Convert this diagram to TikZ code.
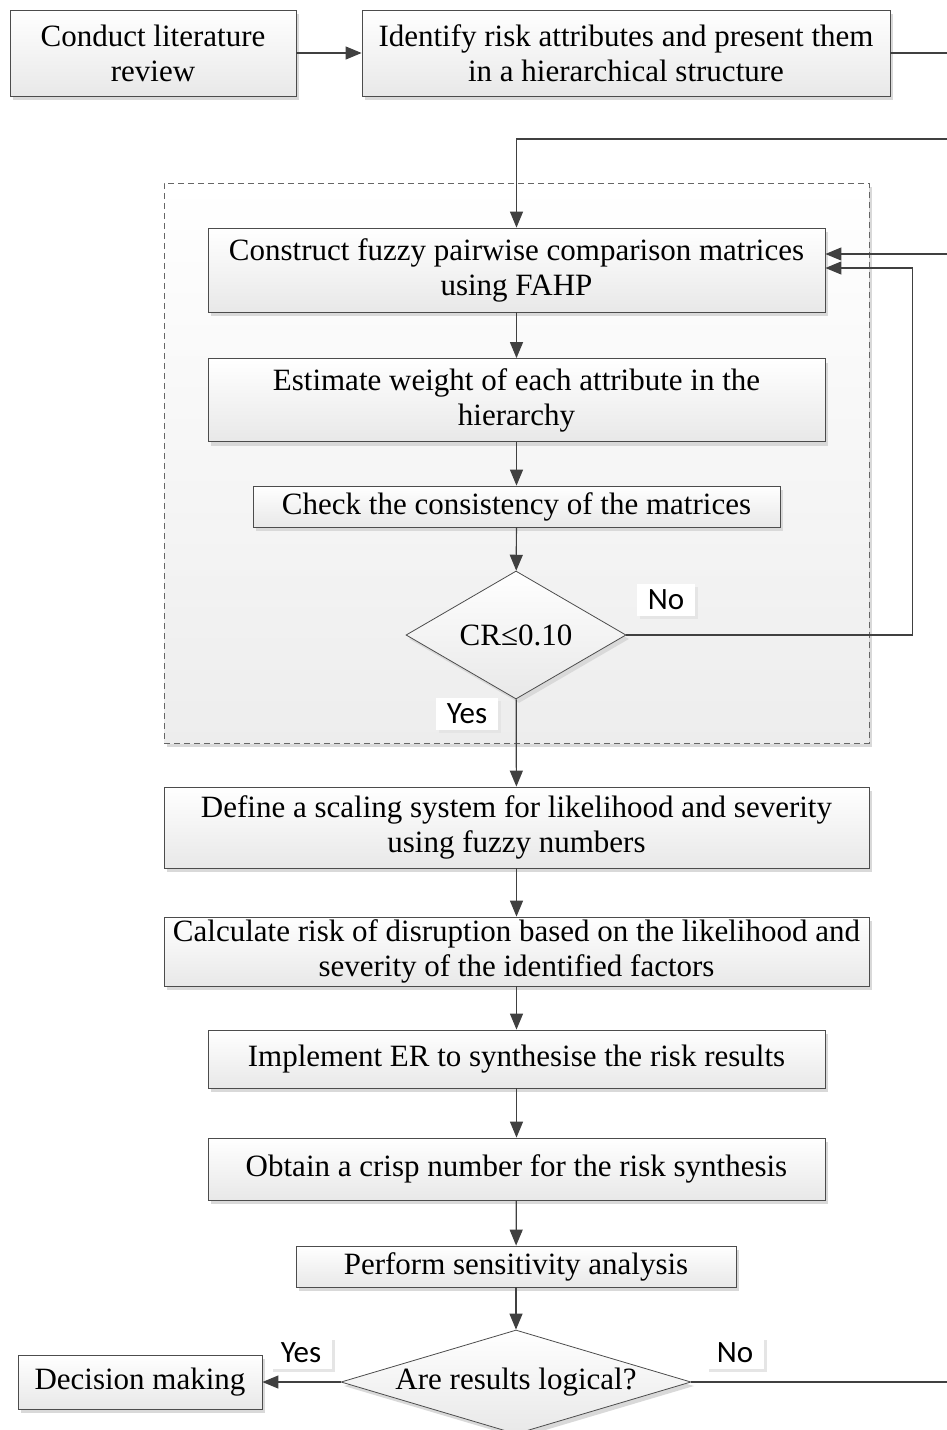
\documentclass[tikz,border=0pt]{standalone}
\usepackage{fontspec}
\setmainfont{Liberation Serif}
\newfontfamily\labelfont{Carlito}
\usetikzlibrary{shapes.geometric,arrows.meta,shadows}

\begin{document}
\begin{tikzpicture}[x=1pt,y=-1pt,
    every node/.style={font=\fontsize{31}{35}\selectfont},
    boxshadow/.style={drop shadow={shadow xshift=3pt,shadow yshift=-4pt,fill=black!15,opacity=1}},
    stepbox/.style={draw=black!70,line width=0.8pt,top color=white,bottom color=black!9,
        align=center,inner sep=0pt,boxshadow},
    testbox/.style={diamond,draw=black!70,line width=0.8pt,top color=white,bottom color=black!9,
        inner sep=0pt,boxshadow},
    areabox/.style={draw=black!60,dash pattern=on 6pt off 4pt,line width=0.7pt,top color=white,
        bottom color=black!7,inner sep=0pt,boxshadow},
    tag/.style={fill=white,inner xsep=11pt,inner ysep=6pt,font=\labelfont\fontsize{31}{33}\selectfont,
        drop shadow={shadow xshift=3pt,shadow yshift=-3pt,fill=black!10,opacity=1}},
    link/.style={draw=black!75,line width=1.2pt},
    arr/.style={link,-{Triangle[length=16pt,width=13pt]}}]
    \useasboundingbox (0,0) rectangle (947,1430);
    % grouped FAHP steps
    \node[areabox,minimum width=705,minimum height=560] (fahp) at (516.5,463) {};
    % steps
    \node[stepbox,minimum width=286,minimum height=86] (lit) at (153,53) {Conduct literature\\review};
    \node[stepbox,minimum width=528,minimum height=86] (ident) at (626,53) {Identify risk attributes and present them\\in a hierarchical structure};
    \node[stepbox,minimum width=617,minimum height=84] (construct) at (516.5,270) {Construct fuzzy pairwise comparison matrices\\using FAHP};
    \node[stepbox,minimum width=617,minimum height=83] (estimate) at (516.5,400) {Estimate weight of each attribute in the\\hierarchy};
    \node[stepbox,minimum width=527,minimum height=41] (check) at (516.5,506.5) {Check the consistency of the matrices};
    \node[testbox,aspect=1.7,minimum width=220,minimum height=128] (cr) at (516,635) {CR≤0.10};
    \node[stepbox,minimum width=705,minimum height=81] (define) at (516.5,827.5) {Define a scaling system for likelihood and severity\\using fuzzy numbers};
    \node[stepbox,minimum width=705,minimum height=69] (calc) at (516.5,951.5) {Calculate risk of disruption based on the likelihood and\\severity of the identified factors};
    \node[stepbox,minimum width=617,minimum height=58] (impl) at (516.5,1059) {Implement ER to synthesise the risk results};
    \node[stepbox,minimum width=617,minimum height=62] (obtain) at (516.5,1169) {Obtain a crisp number for the risk synthesis};
    \node[stepbox,minimum width=440,minimum height=41] (perform) at (516,1266.5) {Perform sensitivity analysis};
    \node[testbox,aspect=3.4,minimum width=350,minimum height=104] (logic) at (516,1382) {Are results logical?};
    \node[stepbox,minimum width=244,minimum height=54] (decide) at (140,1382) {Decision making};
    % free ends at the right edge
    \coordinate (outA) at (947,53);
    \coordinate (inB) at (947,139);
    \coordinate (inC) at (947,254);
    \coordinate (outD) at (947,1382);
    % connectors
    \draw[arr] (lit) -- (ident);
    \draw[link] (ident.east) -- (outA);
    \draw[arr] (inB) -| (construct.north);
    \draw[arr] (inC) -- (construct.east |- inC);
    \draw[arr] (construct) -- (estimate);
    \draw[arr] (estimate) -- (check);
    \draw[arr] (check) -- (cr);
    \draw[arr] (cr.east) -- ++(286,0) |- ([yshift=2pt]construct.east);
    \draw[arr] (cr) -- (define);
    \draw[arr] (define) -- (calc);
    \draw[arr] (calc) -- (impl);
    \draw[arr] (impl) -- (obtain);
    \draw[arr] (obtain) -- (perform);
    \draw[arr] (perform) -- (logic);
    \draw[arr] (logic) -- (decide);
    \draw[link] (logic.east) -- (outD);
    % answers
    \node[tag] (crno) at (666,600) {No};
    \node[tag] (cryes) at (467,714) {Yes};
    \node[tag] (lgyes) at (301,1353) {Yes};
    \node[tag] (lgno) at (735,1353) {No};
\end{tikzpicture}
\end{document}
